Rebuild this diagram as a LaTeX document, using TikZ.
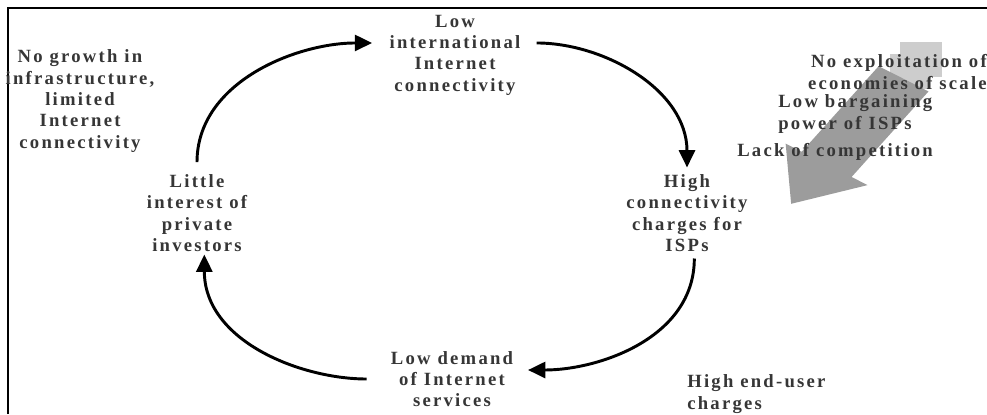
\documentclass[tikz,border=0pt]{standalone}
\usepackage{fontspec}
\setmainfont{Liberation Serif}
\newfontfamily\spacedserif[LetterSpace=12]{Liberation Serif}
\usetikzlibrary{arrows.meta}
\definecolor{txtcol}{HTML}{363636}
\definecolor{bigdark}{HTML}{9C9C9C}
\definecolor{biglight}{HTML}{CDCDCD}

\begin{document}
\begin{tikzpicture}[
  x=0.75pt, y=-0.75pt,
  lbl/.style={font=\fontsize{14}{16}\selectfont\spacedserif\bfseries, text=txtcol},
  stage/.style={lbl, align=center, inner sep=2pt},
  cause/.style={lbl, inner sep=0pt},
  cyc/.style={-{Triangle[length=13pt,width=12pt]}, line width=2.2pt, draw=black},
]
\useasboundingbox[fill=white] (0,0) rectangle (987,414);

% frame (top and left edge only)
\draw[line width=1.5pt] (8,414) -- (8,8) -- (987,8);

%============================ BIG GREY ARROW ============================
\begin{scope}[shift={(925,55)}, x={(-0.502pt,-0.558pt)}, y={(0.668pt,-0.338pt)}]
  \fill[biglight] (0,-28) rectangle (12,28);
  \fill[biglight] (15,-28) rectangle (29,28);
  \fill[bigdark] (32,-28) -- (147,-28) -- (147,-46) -- (200,0)
                 -- (147,46) -- (147,28) -- (32,28) -- cycle;
\end{scope}

%============================ CYCLE ============================
\node[stage] (lowint) at (455,55) {Low\\international\\Internet\\connectivity};
\node[stage] (high)   at (687,213) {High\\connectivity\\charges for\\ISPs};
\node[stage] (lowdem) at (452,379) {Low demand\\of Internet\\services};
\node[stage] (little) at (197,213) {Little\\interest of\\private\\investors};

\draw[cyc, shorten <=7pt, shorten >=11pt] (little.north) to[out=90,in=180] (lowint.170);
\draw[cyc, shorten <=10pt, shorten >=3pt] (lowint.10) to[out=0,in=90] (high.north);
\draw[cyc, shorten <=3pt, shorten >=9pt] (high.-80) to[out=-90,in=0] (lowdem.8);
\draw[cyc, shorten <=16pt] (lowdem.west) to[out=180,in=-90] (little.-80);

%============================ SIDE LABELS ============================
\node[stage] (growth) at (80,101) {No growth in\\infrastructure,\\limited\\Internet\\connectivity};
\node[cause, align=right, anchor=east] (scale) at (987,72) {No exploitation of\\economies of scale};
\node[cause, align=left, anchor=west] (bargain) at (778,114) {Low bargaining\\power of ISPs};
\node[cause, anchor=west] (compet) at (737,152) {Lack of competition};
\node[cause, align=left, anchor=west] (enduser) at (687,394) {High end-user\\charges};

\end{tikzpicture}
\end{document}
